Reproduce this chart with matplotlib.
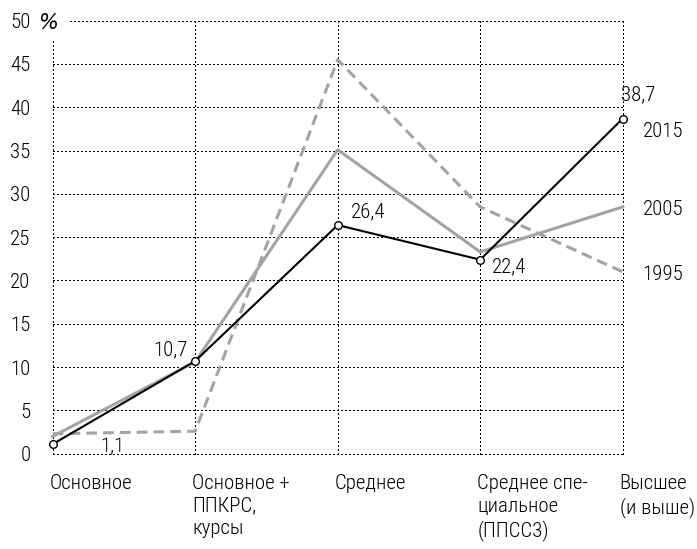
import matplotlib
matplotlib.use("Agg")
import matplotlib.pyplot as plt
from matplotlib import font_manager as fm

categories = ["Основное", "Основное +\nППКРС,\nкурсы", "Среднее",
              "Среднее спе-\nциальное\n(ППСС3)", "Высшее\n(и выше)"]
y1995 = [2.3, 2.6, 45.5, 28.5, 21.0]
y2005 = [2.0, 10.6, 35.1, 23.3, 28.5]
y2015 = [1.1, 10.7, 26.4, 22.4, 38.7]
labels2015 = ["1,1", "10,7", "26,4", "22,4", "38,7"]
yticks = [0, 5, 10, 15, 20, 25, 30, 35, 40, 45, 50]
series_names = ["1995", "2005", "2015"]

names = {f.name for f in fm.fontManager.ttflist}
fam = [n for n in ["Liberation Sans Narrow", "Roboto Condensed", "Liberation Sans", "DejaVu Sans"] if n in names]
plt.rcParams['font.family'] = fam
plt.rcParams['font.weight'] = 300

W, H = 697, 549
fig = plt.figure(figsize=(W / 100, H / 100), dpi=100)
x0, x1, yb, yt = 52.7, 622.7, 453.7, 20.7
ax = fig.add_axes([x0 / W, 1 - yb / H, (x1 - x0) / W, (yb - yt) / H])
ax.set_xlim(0, 4)
ax.set_ylim(0, 50)
for s in ax.spines.values():
    s.set_visible(False)

px = 0.72  # points per pixel
xs = list(range(len(categories)))

# grid (dotted)
gkw = dict(color="black", lw=1.0, ls=(0, (0.75, 1.5)), zorder=1, antialiased=False)
for yv in yticks:
    ax.plot([0.12 if yv == 50 else 0, 4], [yv, yv], clip_on=False, **gkw)
for xv in xs:
    ax.plot([xv, xv], [0, 48 if xv == 0 else 50], clip_on=False, **gkw)

grey = "#a3a3a3"
ax.plot(xs, y1995, color=grey, lw=2.2, ls=(0, (3.5, 2)), zorder=2, clip_on=False)
ax.plot(xs, y2005, color=grey, lw=2.2, zorder=3, clip_on=False)
ax.plot(xs, y2015, color="black", lw=1.5, zorder=4, marker="o", ms=5.5,
        mfc="white", mec="black", mew=1.0, clip_on=False)

fs = 15
ax.set_yticks(yticks)
ax.set_yticklabels([str(v) for v in yticks], fontsize=fs)
ax.tick_params(axis="y", length=0, pad=16)
ax.set_xticks([])
ax.text(48.5 / W, 1 - 23 / H, "%", transform=fig.transFigure, fontsize=15,
        family=["DejaVu Sans"], style="oblique", fontweight="normal",
        ha="center", va="center")

for i, c in enumerate(categories):
    ax.annotate(c, xy=(i, 0), xytext=(-3 * px, -20 * px), textcoords="offset points",
                ha="left", va="top", fontsize=fs, linespacing=1.25)

offs = [(60, -3), (-25, 11), (30, 13), (29, -7), (15, 23.6)]
for i, (lab, (dx, dy)) in enumerate(zip(labels2015, offs)):
    ax.annotate(lab, xy=(i, y2015[i]), xytext=(dx * px, dy * px), textcoords="offset points",
                ha="center", va="center", fontsize=fs)

for name, ser, dy in zip(series_names, [y1995, y2005, y2015], [-3, -3, -13.4]):
    ax.annotate(name, xy=(4, ser[-1]), xytext=(20 * px, dy * px), textcoords="offset points",
                ha="left", va="center", fontsize=fs)

fig.savefig("out.png", dpi=100)
